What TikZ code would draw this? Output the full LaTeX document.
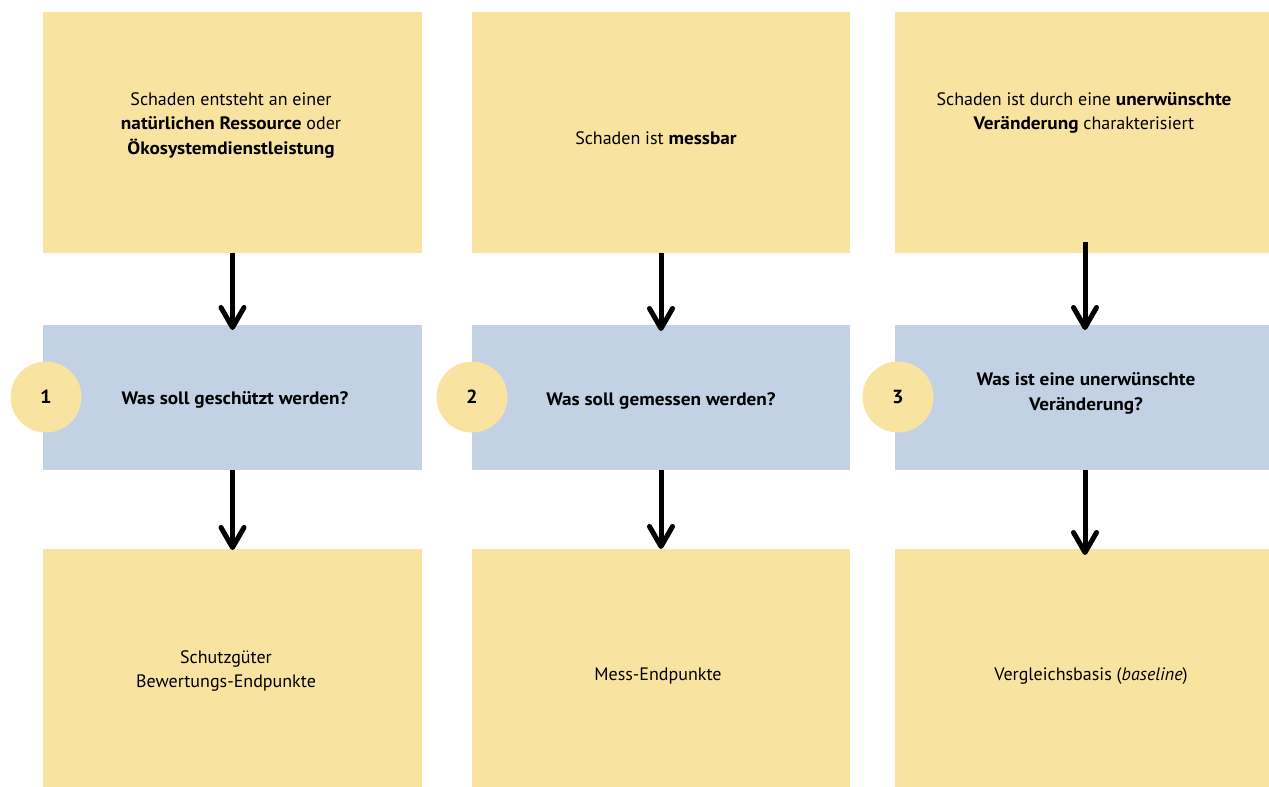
\documentclass[tikz,border=0pt]{standalone}
\usepackage{fontspec}
\setmainfont{PT Sans}[BoldFeatures={FakeStretch=1.07}]
\usetikzlibrary{arrows.meta}
\definecolor{boxyellow}{HTML}{F8E4A0}
\definecolor{boxblue}{HTML}{C3D1E4}
\tikzset{
  ybox/.style={fill=boxyellow, draw=none, inner sep=0pt, outer sep=0pt, anchor=north west},
  bbox/.style={fill=boxblue, draw=none, inner sep=0pt, outer sep=0pt, anchor=north west},
  numcirc/.style={circle, fill=boxyellow, draw=none, minimum size=71pt, inner sep=0pt, font=\fontsize{19}{22}\selectfont\bfseries},
  txt/.style={align=center, inner sep=0pt, font=\fontsize{18}{24.5}\selectfont},
  btxt/.style={txt, font=\fontsize{18}{25}\selectfont\bfseries},
  arr/.style={line width=5pt, -{Straight Barb[length=20pt,width=23pt,line cap=round,round]}}
}
\begin{document}
\begin{tikzpicture}[x=1pt,y=-1pt]
\useasboundingbox (0,0) rectangle (1269,787);
% column boxes
\node[ybox, minimum width=379pt, minimum height=241pt] (t1) at (43,12) {};
\node[ybox, minimum width=378pt, minimum height=241pt] (t2) at (472,12) {};
\node[ybox, minimum width=374pt, minimum height=241pt] (t3) at (895,12) {};
\node[bbox, minimum width=379pt, minimum height=145pt] (m1) at (43,325) {};
\node[bbox, minimum width=378pt, minimum height=145pt] (m2) at (472,325) {};
\node[bbox, minimum width=374pt, minimum height=145pt] (m3) at (895,325) {};
\node[ybox, minimum width=379pt, minimum height=238pt] (b1) at (43,549) {};
\node[ybox, minimum width=378pt, minimum height=238pt] (b2) at (472,549) {};
\node[ybox, minimum width=374pt, minimum height=238pt] (b3) at (895,549) {};
% circles
\node[numcirc] (c1) at (46,397) {1};
\node[numcirc] (c2) at (472,397) {2};
\node[numcirc] (c3) at (898,397) {3};
% texts
\node[txt] (tt1) at (231,125) {Schaden entsteht an einer\\\textbf{natürlichen Ressource} oder\\\textbf{Ökosystemdienstleistung}};
\node[txt] (tt2) at (656,138) {Schaden ist \textbf{messbar}};
\node[txt] (tt3) at (1084,113) {Schaden ist durch eine \textbf{unerwünschte}\\\textbf{Veränderung} charakterisiert};
\node[btxt] (mt1) at (235,400) {Was soll geschützt werden?};
\node[btxt] (mt2) at (661,401) {Was soll gemessen werden?};
\node[btxt] (mt3) at (1086,393) {Was ist eine unerwünschte\\Veränderung?};
\node[txt] (bt1) at (226,671) {Schutzgüter\\Bewertungs-Endpunkte};
\node[txt] (bt2) at (658,676) {Mess-Endpunkte};
\node[txt] (bt3) at (1091,676) {Vergleichsbasis (\textit{baseline})};
% arrows
\draw[arr] (t1.south) -- ([yshift=-5pt]m1.north);
\draw[arr] (m1.south) -- ([yshift=-1pt]b1.north);
\draw[arr] (t2.south) -- ([yshift=-6pt]m2.north);
\draw[arr] (m2.south) -- (b2.north);
\draw[arr] ([xshift=3pt,yshift=11pt]t3.south) -- ([xshift=3pt,yshift=-5pt]m3.north);
\draw[arr] ([xshift=3pt]m3.south) -- ([xshift=3pt,yshift=-6pt]b3.north);
\end{tikzpicture}
\end{document}
